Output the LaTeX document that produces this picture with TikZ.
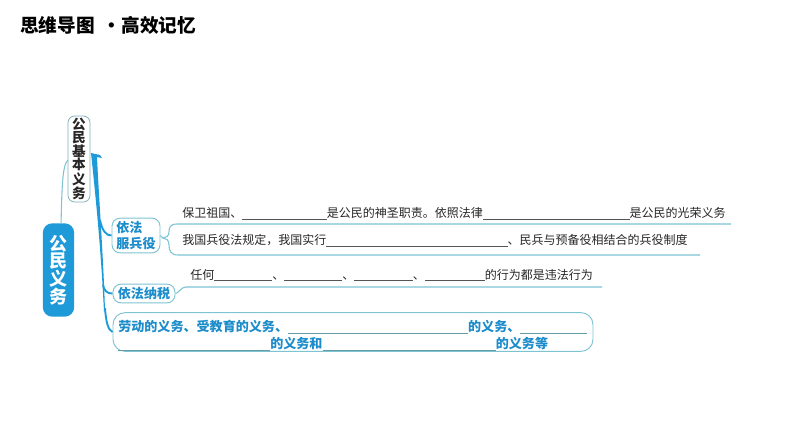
\documentclass[tikz,border=0pt]{standalone}
\usepackage{fontspec}
\newfontfamily\cjk{Noto Sans CJK SC}
\definecolor{mainblue}{HTML}{1F9AD8}
\definecolor{textblue}{HTML}{1C8CCB}
\definecolor{tealline}{HTML}{7DC3D2}
\definecolor{blankgray}{HTML}{555555}
\newcommand\blk[1]{\textcolor{blankgray}{\rule[-1.6pt]{#1}{0.5pt}}}
\newcommand\blkb[1]{\textcolor{tealline!80!black}{\rule[-1.8pt]{#1}{0.6pt}}}
\tikzset{
  sent/.style={anchor=base west,inner sep=0pt,font=\cjk\fontsize{9}{9}\selectfont,text=black!85},
  boldt/.style={anchor=base west,inner sep=0pt,font=\cjk\bfseries\fontsize{9.8}{9.8}\selectfont,text=textblue},
  topicbox/.style={draw=tealline,line width=0.7pt,rounded corners=6pt},
  branch/.style={draw=mainblue,line width=1.4pt},
  outl/.style={draw=tealline,line width=0.8pt},
}
\begin{document}
\begin{tikzpicture}[x=0.75pt,y=-0.75pt]
\useasboundingbox (0,0) rectangle (794,447);
% title
\node[anchor=west,inner sep=0pt,font=\cjk\bfseries\fontsize{14}{14}\selectfont] (title) at (20,25) {思维导图\hspace{6pt}·高效记忆};
% root
\node[fill=mainblue,rounded corners=7pt,minimum width=23.5pt,minimum height=70pt,inner sep=0pt,
      text=white,align=center,font=\cjk\bfseries\fontsize{13.5}{13.3}\selectfont] (root) at (58.5,270) {公\\民\\义\\务};
% 公民基本义务
\node[draw=tealline!70!gray,line width=0.6pt,rounded corners=5pt,minimum width=16.5pt,minimum height=64.5pt,inner sep=0pt,
      text=black!85,align=center,font=\cjk\bfseries\fontsize{10.2}{9.7}\selectfont] (basic) at (79,159) {公\\民\\基\\本\\义\\务};
\coordinate (rootTop) at (61,224);
\coordinate (basicL) at (68,160);
\draw[outl] (rootTop) .. controls (62,190) and (62,165) .. (basicL);
% trunk
\coordinate (t0) at (93,155);
\coordinate (t1) at (100,220);
\coordinate (t2) at (103,285);
\coordinate (t3) at (105,308);
\fill[mainblue] (91,153) -- (100,155) -- (102,158) -- (97,157)
  .. controls (99,200) and (103,250) .. (105,310)
  -- (104,312) .. controls (101,250) and (96,200) .. (91,153) -- cycle;
% 依法服兵役
\node[topicbox,minimum width=36pt,minimum height=26pt,inner sep=2pt,align=left,text=textblue,
      font=\cjk\bfseries\fontsize{9.8}{12}\selectfont] (army) at (136,235.5) {依法\\服兵役};
\draw[branch] (t1) .. controls (102,230) and (106,236) .. (army.west);
% brace and lines
\coordinate (armyTip) at (163,238);
\coordinate (l1end) at (731,224);
\coordinate (l2end) at (700,255);
\draw[outl] (army.east) -- (armyTip);
\draw[outl] (l1end) -- (177,224) .. controls (170,224) and (169,228) .. (169,232)
   .. controls (169,236) and (166,238) .. (armyTip)
   .. controls (166,238) and (169,240) .. (169,245)
   .. controls (169,251) and (171,255) .. (178,255) -- (l2end);
\node[sent] (s1) at (182,217.5) {保卫祖国、\blk{63.5pt}是公民的神圣职责。依照法律\blk{110pt}是公民的光荣义务};
\node[sent] (s2) at (182,244.5) {我国兵役法规定，我国实行\blk{136pt}、民兵与预备役相结合的兵役制度};
% 依法纳税
\node[topicbox,minimum width=46.5pt,minimum height=14pt,inner sep=1pt,text=textblue,
      font=\cjk\bfseries\fontsize{9.8}{9.8}\selectfont,rounded corners=6pt] (tax) at (144,293.5) {依法纳税};
\draw[branch] (t2) .. controls (104,290) and (107,294) .. (tax.west);
\coordinate (taxEnd) at (602,287);
\draw[outl] (tax.east) .. controls (179,293) and (181,287) .. (186,287) -- (taxEnd);
\node[sent] (s3) at (190,279) {任何\blk{43.5pt}、\blk{43.5pt}、\blk{44pt}、\blk{45pt}的行为都是违法行为};
% third box
\node[topicbox,minimum width=360pt,minimum height=29pt,inner sep=0pt,rounded corners=9pt] (other) at (353,332) {};
\draw[branch] (t3) .. controls (106,322) and (108,330) .. (other.west);
\node[boldt] (o1) at (118,331) {劳动的义务、受教育的义务、\blkb{135pt}的义务、\blkb{50pt}};
\node[boldt] (o2) at (118,348) {\blkb{114pt}的义务和\blkb{130pt}的义务等};
\end{tikzpicture}
\end{document}
